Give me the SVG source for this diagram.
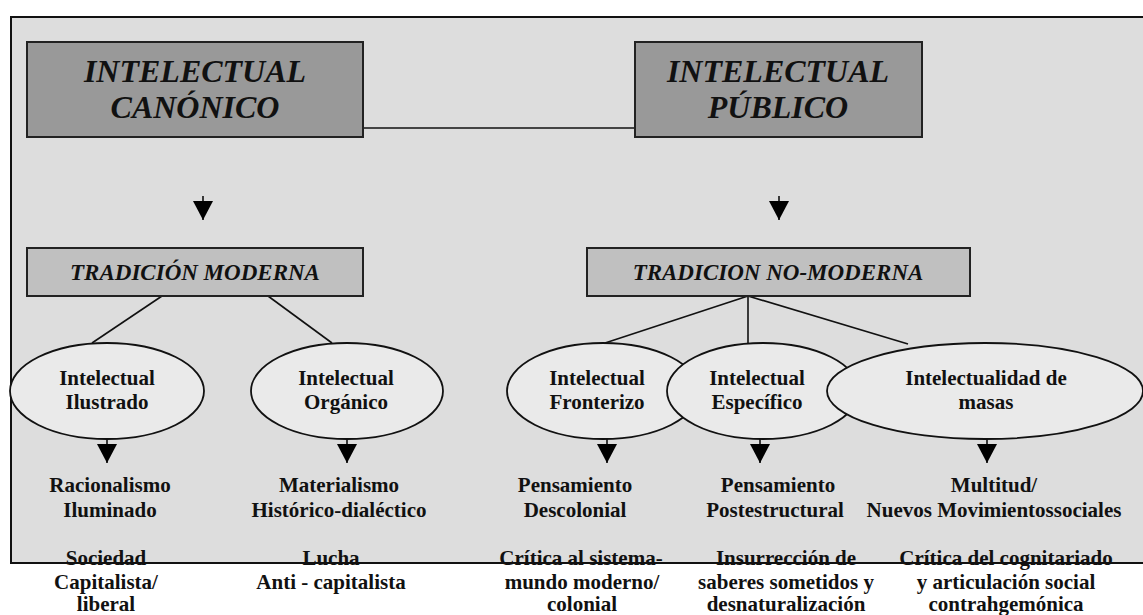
<svg xmlns="http://www.w3.org/2000/svg" width="1143" height="615" viewBox="0 0 1143 615">
  <style>
    .frame { fill: #dddddd; stroke: #111; stroke-width: 2; }
    .big { fill: #999999; stroke: #222; stroke-width: 2; }
    .trad { fill: #c0c0c0; stroke: #222; stroke-width: 2; }
    .ell { fill: #eaeaea; stroke: #111; stroke-width: 1.8; }
    .ln { stroke: #111; stroke-width: 1.6; fill: none; }
    .arr { stroke: #111; stroke-width: 1.6; fill: none; marker-end: url(#tri); }
    .tbig { font-family: "Liberation Serif", "Times New Roman", serif; font-weight: bold; font-style: italic; font-size: 32px; text-anchor: middle; fill: #111; }
    .ttrad { font-family: "Liberation Serif", "Times New Roman", serif; font-weight: bold; font-style: italic; font-size: 23px; text-anchor: middle; fill: #111; }
    .t { font-family: "Liberation Serif", "Times New Roman", serif; font-weight: bold; font-size: 21px; text-anchor: middle; fill: #111; }
  </style>
  <defs>
    <marker id="tri" viewBox="0 0 19 20" refX="19" refY="10" markerWidth="19" markerHeight="20" markerUnits="userSpaceOnUse" orient="auto">
      <path d="M0,0 L19,10 L0,20 z" fill="#000"/>
    </marker>
  </defs>

  <rect class="frame" x="11" y="17" width="1145" height="546"/>

  <g id="connectors">
    <line class="ln" x1="363" y1="128" x2="635" y2="128"/>
    <line class="arr" x1="203" y1="196" x2="203" y2="220"/>
    <line class="arr" x1="779" y1="196" x2="779" y2="220"/>
    <line class="ln" x1="162" y1="296" x2="92" y2="343"/>
    <line class="ln" x1="268" y1="296" x2="332" y2="343"/>
    <line class="ln" x1="748" y1="296" x2="605" y2="343"/>
    <line class="ln" x1="748" y1="296" x2="748" y2="343"/>
    <line class="ln" x1="748" y1="296" x2="908" y2="344"/>
    <line class="arr" x1="107" y1="439" x2="107" y2="463"/>
    <line class="arr" x1="347" y1="439" x2="347" y2="463"/>
    <line class="arr" x1="607" y1="439" x2="607" y2="463"/>
    <line class="arr" x1="760" y1="439" x2="760" y2="463"/>
    <line class="arr" x1="987" y1="439" x2="987" y2="463"/>
  </g>

  <g id="canonico">
    <rect class="big" x="27" y="42" width="336" height="95"/>
    <text class="tbig" x="195" y="82">INTELECTUAL</text>
    <text class="tbig" x="195" y="118">CANÓNICO</text>
  </g>
  <g id="publico">
    <rect class="big" x="635" y="42" width="287" height="95"/>
    <text class="tbig" x="778" y="82">INTELECTUAL</text>
    <text class="tbig" x="778" y="118">PÚBLICO</text>
  </g>
  <g id="tradicion-moderna">
    <rect class="trad" x="27" y="248" width="336" height="48"/>
    <text class="ttrad" x="195" y="280">TRADICIÓN MODERNA</text>
  </g>
  <g id="tradicion-no-moderna">
    <rect class="trad" x="587" y="248" width="383" height="48"/>
    <text class="ttrad" x="778" y="280">TRADICION NO-MODERNA</text>
  </g>

  <g id="ilustrado">
    <ellipse class="ell" cx="107" cy="391" rx="97" ry="48"/>
    <text class="t" x="107" y="385">Intelectual</text>
    <text class="t" x="107" y="409">Ilustrado</text>
  </g>
  <g id="organico">
    <ellipse class="ell" cx="347" cy="391" rx="96" ry="48"/>
    <text class="t" x="346" y="385">Intelectual</text>
    <text class="t" x="346" y="409">Orgánico</text>
  </g>
  <g id="fronterizo">
    <ellipse class="ell" cx="603" cy="391" rx="96" ry="48"/>
    <text class="t" x="597" y="385">Intelectual</text>
    <text class="t" x="597" y="409">Fronterizo</text>
  </g>
  <g id="especifico">
    <ellipse class="ell" cx="763" cy="391" rx="96" ry="48"/>
    <text class="t" x="757" y="385">Intelectual</text>
    <text class="t" x="757" y="409">Específico</text>
  </g>
  <g id="masas">
    <ellipse class="ell" cx="985" cy="391" rx="158" ry="48"/>
    <text class="t" x="986" y="385">Intelectualidad de</text>
    <text class="t" x="986" y="409">masas</text>
  </g>

  <g id="racionalismo">
    <text class="t" x="110" y="492">Racionalismo</text>
    <text class="t" x="110" y="517">Iluminado</text>
  </g>
  <g id="materialismo">
    <text class="t" x="339" y="492">Materialismo</text>
    <text class="t" x="339" y="517">Histórico-dialéctico</text>
  </g>
  <g id="descolonial">
    <text class="t" x="575" y="492">Pensamiento</text>
    <text class="t" x="575" y="517">Descolonial</text>
  </g>
  <g id="postestructural">
    <text class="t" x="778" y="492">Pensamiento</text>
    <text class="t" x="775" y="517">Postestructural</text>
  </g>
  <g id="multitud">
    <text class="t" x="994" y="492">Multitud/</text>
    <text class="t" x="994" y="517">Nuevos Movimientossociales</text>
  </g>

  <g id="sociedad">
    <text class="t" x="106" y="565">Sociedad</text>
    <text class="t" x="106" y="589">Capitalista/</text>
    <text class="t" x="106" y="611">liberal</text>
  </g>
  <g id="lucha">
    <text class="t" x="331" y="565">Lucha</text>
    <text class="t" x="331" y="589">Anti - capitalista</text>
  </g>
  <g id="critica-sistema">
    <text class="t" x="581" y="565">Crítica al sistema-</text>
    <text class="t" x="582" y="589">mundo moderno/</text>
    <text class="t" x="582" y="611">colonial</text>
  </g>
  <g id="insurreccion">
    <text class="t" x="786" y="565">Insurrección de</text>
    <text class="t" x="786" y="589">saberes sometidos y</text>
    <text class="t" x="786" y="611">desnaturalización</text>
  </g>
  <g id="critica-cognitariado">
    <text class="t" x="1006" y="565">Crítica del cognitariado</text>
    <text class="t" x="1006" y="589">y articulación social</text>
    <text class="t" x="1006" y="611">contrahgemónica</text>
  </g>
</svg>
